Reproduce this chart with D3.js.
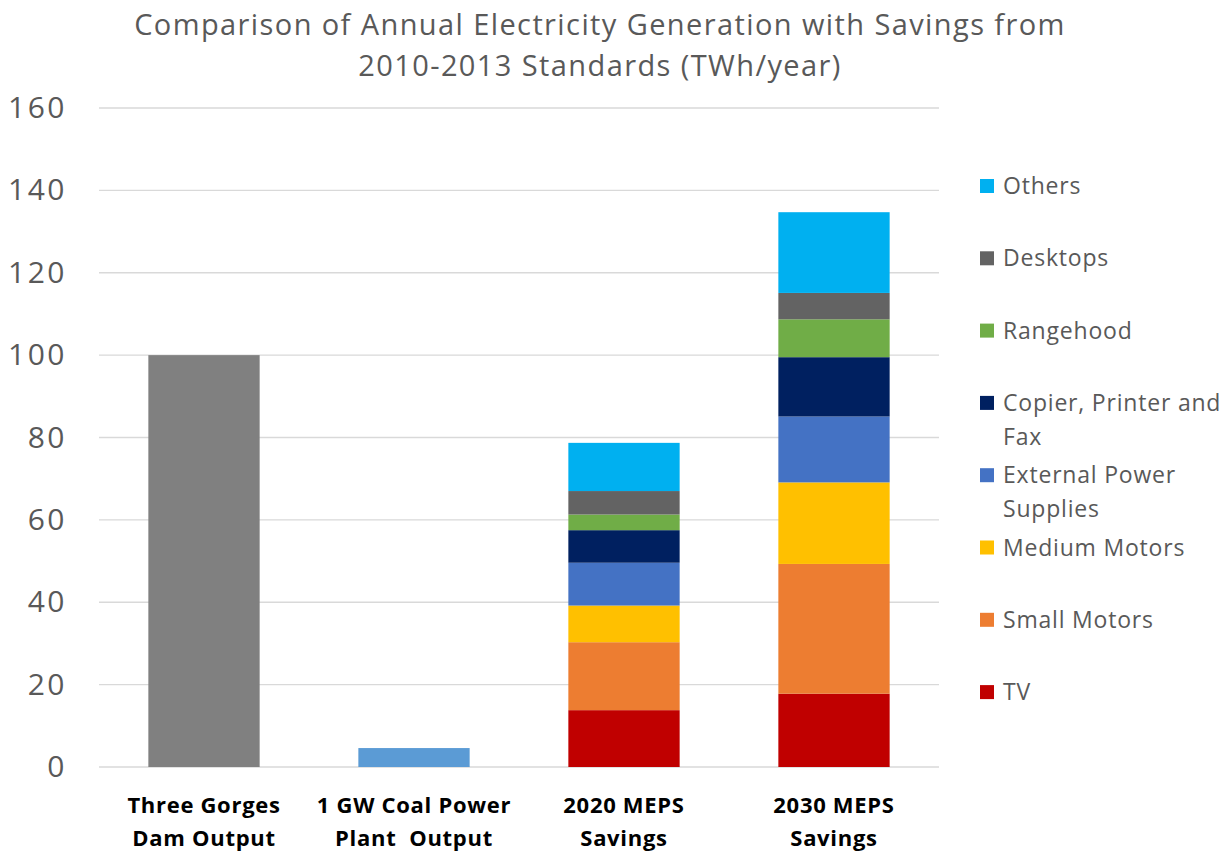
<!DOCTYPE html>
<html>
<head>
<meta charset="utf-8">
<script src="https://cdn.jsdelivr.net/npm/d3@7"></script>
<style>
  body { margin: 0; background: #fff; }
  text { font-family: "Open Sans", Lato, sans-serif; }
</style>
</head>
<body>
<script>
// Categories along the x axis (two lines each)
var categories = ["Three Gorges Dam Output", "1 GW Coal Power Plant Output", "2020 MEPS Savings", "2030 MEPS Savings"];
var catLines = [["Three Gorges", "Dam Output"], ["1 GW Coal Power", "Plant  Output"], ["2020 MEPS", "Savings"], ["2030 MEPS", "Savings"]];

// Single bars
var singleValues = [100, 4.6];
var singleColors = ["#808080", "#5b9bd5"];

// Stacked series, bottom to top
var seriesNames = ["TV", "Small Motors", "Medium Motors", "External Power Supplies", "Copier, Printer and Fax", "Rangehood", "Desktops", "Others"];
var seriesColors = ["#c00000", "#ed7d31", "#ffc000", "#4472c4", "#002060", "#70ad47", "#636363", "#00b0f0"];
var savings2020 = [13.8, 16.5, 8.9, 10.4, 7.9, 3.8, 5.7, 11.7];
var savings2030 = [17.8, 31.5, 19.8, 16.0, 14.4, 9.2, 6.4, 19.6];

// Legend text, wrapped like the original
var legendLines = [["Others"], ["Desktops"], ["Rangehood"], ["Copier, Printer and", "Fax"], ["External Power", "Supplies"], ["Medium Motors"], ["Small Motors"], ["TV"]];

var yTicks = [0, 20, 40, 60, 80, 100, 120, 140, 160];

var W = 1227, H = 853;
var margin = {top: 108, left: 99, right: 288, bottom: 86};

var svg = d3.select("body").append("svg").attr("width", W).attr("height", H);

var x = d3.scaleBand().domain(categories).range([margin.left, W - margin.right]).paddingInner(0.47).paddingOuter(0.235);
var y = d3.scaleLinear().domain([0, 160]).range([H - margin.bottom, margin.top]);

// Gridlines
svg.append("g")
    .selectAll("line").data(yTicks).enter().append("line")
    .attr("x1", margin.left).attr("x2", W - margin.right)
    .attr("y1", function(d) { return y(d); }).attr("y2", function(d) { return y(d); })
    .attr("stroke", "#d9d9d9").attr("stroke-width", 1.3);

// Y axis labels
var yAxis = svg.append("g")
    .attr("transform", "translate(" + (margin.left - 2) + ",0)")
    .call(d3.axisLeft(y).tickValues(yTicks).tickSize(0).tickPadding(30));
yAxis.select(".domain").remove();
yAxis.selectAll("text").attr("font-size", 30).attr("fill", "#595959")
    .attr("letter-spacing", 2.5)
    .style("font-family", "'Open Sans', Lato, sans-serif");

// Single bars
svg.append("g").selectAll("rect").data(singleValues).enter().append("rect")
    .attr("x", function(d, i) { return x(categories[i]); })
    .attr("width", x.bandwidth())
    .attr("y", function(d) { return y(d); })
    .attr("height", function(d) { return y(0) - y(d); })
    .attr("fill", function(d, i) { return singleColors[i]; });

// Stacked bars
var stackData = [
  {cat: categories[2], vals: savings2020},
  {cat: categories[3], vals: savings2030}
];
stackData.forEach(function(s) {
  var base = 0;
  var segs = s.vals.map(function(v, i) { var seg = {y0: base, y1: base + v, i: i}; base += v; return seg; });
  svg.append("g").selectAll("rect").data(segs).enter().append("rect")
      .attr("x", x(s.cat))
      .attr("width", x.bandwidth())
      .attr("y", function(d) { return y(d.y1); })
      .attr("height", function(d) { return y(d.y0) - y(d.y1); })
      .attr("fill", function(d) { return seriesColors[d.i]; });
});

// X labels
var xl = svg.append("g").selectAll("text").data(catLines).enter().append("text")
    .attr("text-anchor", "middle")
    .attr("x", function(d, i) { return x(categories[i]) + x.bandwidth() / 2; })
    .attr("y", 813)
    .attr("font-size", 22).attr("font-weight", "bold").attr("fill", "#000")
    .attr("letter-spacing", 0.7);
xl.selectAll("tspan").data(function(d) { return d; }).enter().append("tspan")
    .attr("x", function() { return d3.select(this.parentNode).attr("x"); })
    .attr("dy", function(d, i) { return i ? 33 : 0; })
    .style("white-space", "pre")
    .text(function(d) { return d; });

// Legend
var legendColors = seriesColors.slice().reverse();
var lg = svg.append("g").selectAll("g").data(legendLines).enter().append("g")
    .attr("transform", function(d, i) { return "translate(980," + (186 + i * 72.3) + ")"; });
lg.append("rect").attr("x", 0).attr("y", -7).attr("width", 14).attr("height", 14)
    .attr("fill", function(d, i) { return legendColors[i]; });
lg.append("text").attr("x", 23).attr("y", 8).attr("font-size", 23).attr("fill", "#595959")
    .attr("letter-spacing", 0.8)
  .selectAll("tspan").data(function(d) { return d; }).enter().append("tspan")
    .attr("x", 23).attr("dy", function(d, i) { return i ? 34 : 0; })
    .text(function(d) { return d; });

// Title
svg.append("text").attr("text-anchor", "middle").attr("x", 600).attr("y", 35)
    .attr("font-size", 29).attr("fill", "#595959").attr("letter-spacing", 1.4)
  .selectAll("tspan").data(["Comparison of Annual Electricity Generation with Savings from", "2010-2013 Standards (TWh/year)"])
  .enter().append("tspan").attr("x", 600).attr("dy", function(d, i) { return i ? 41 : 0; })
    .text(function(d) { return d; });
</script>
</body>
</html>
